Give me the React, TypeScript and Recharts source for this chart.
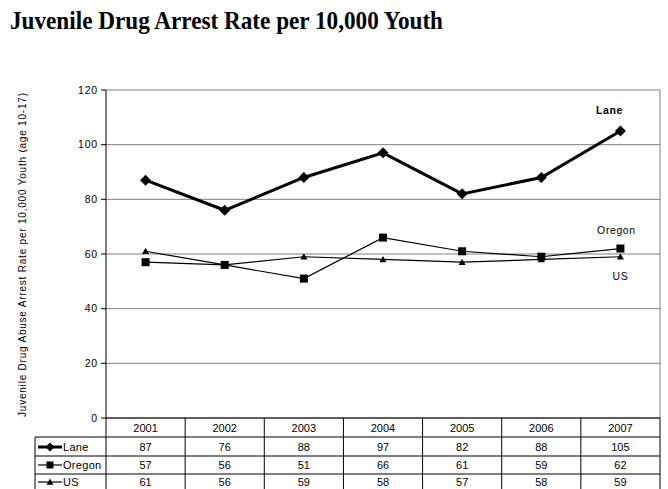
import React from 'react';
import { LineChart, Line, XAxis, YAxis, CartesianGrid, LabelList, Customized } from 'recharts';

const years = ['2001', '2002', '2003', '2004', '2005', '2006', '2007'];
const lane = [87, 76, 88, 97, 82, 88, 105];
const oregon = [57, 56, 51, 66, 61, 59, 62];
const us = [61, 56, 59, 58, 57, 58, 59];
const yTicks = [0, 20, 40, 60, 80, 100, 120];
const seriesNames = ['Lane', 'Oregon', 'US'];

const data = years.map((year, i) => ({ year, lane: lane[i], oregon: oregon[i], us: us[i] }));

const W = 668;
const H = 489;
const PLOT_LEFT = 106;
const PLOT_RIGHT = 660;
const PLOT_TOP = 90;
const PLOT_BOTTOM = 418;
const COL_W = (PLOT_RIGHT - PLOT_LEFT) / years.length;
const HEADER_Y = 427.5;
const ROW_Y = [447, 465, 482];
const ROW_LINES = [437, 456, 474];
const LEGEND_LEFT = 35;
const FONT = '"Liberation Sans", Arial, sans-serif';

const Diamond = ({ cx, cy, r = 5.5 }: any) => (
  <path d={`M${cx},${cy - r}L${cx + r},${cy}L${cx},${cy + r}L${cx - r},${cy}Z`} fill="#000" />
);
const Square = ({ cx, cy, s = 4 }: any) => (
  <rect x={cx - s} y={cy - s} width={2 * s} height={2 * s} fill="#000" />
);
const Triangle = ({ cx, cy, s = 3.5 }: any) => (
  <path d={`M${cx},${cy - s}L${cx + s},${cy + s * 0.8}L${cx - s},${cy + s * 0.8}Z`} fill="#000" />
);

const markers = [Diamond, Square, Triangle];
const lineWidths = [3, 1.2, 1.2];

// year header + the three value rows under each category
const TableTick = (props: any) => {
  const { x, index, payload } = props;
  const rows = [lane, oregon, us];
  const right = x + COL_W / 2;
  return (
    <g>
      <text x={x} y={HEADER_Y} textAnchor="middle" dominantBaseline="central" fontSize={11} fontFamily={FONT} fill="#000">
        {payload.value}
      </text>
      {rows.map((r, k) => (
        <text key={k} x={x} y={ROW_Y[k]} textAnchor="middle" dominantBaseline="central" fontSize={11} fontFamily={FONT} fill="#000">
          {r[index]}
        </text>
      ))}
      <line x1={right} x2={right} y1={PLOT_BOTTOM} y2={H} stroke="#000" strokeWidth={1} />
    </g>
  );
};

const Frame = () => (
  <g>
    <text x={10} y={29} fontFamily='"Liberation Serif", "Times New Roman", serif' fontWeight="bold" fontSize={26} textLength={433} lengthAdjust="spacingAndGlyphs" fill="#000">
      Juvenile Drug Arrest Rate per 10,000 Youth
    </text>
    <text
      x={22}
      y={255}
      transform="rotate(-90 22 255)"
      textAnchor="middle"
      dominantBaseline="central"
      fontFamily={FONT}
      fontSize={10}
      textLength={324}
      lengthAdjust="spacing"
      fill="#000"
    >
      Juvenile Drug Abuse Arrest Rate per 10,000 Youth (age 10-17)
    </text>
    <line x1={PLOT_RIGHT} x2={PLOT_RIGHT} y1={PLOT_TOP} y2={PLOT_BOTTOM} stroke="#808080" />
    <line x1={PLOT_LEFT} x2={PLOT_LEFT} y1={PLOT_BOTTOM} y2={H} stroke="#000" />
    <line x1={LEGEND_LEFT} x2={LEGEND_LEFT} y1={ROW_LINES[0]} y2={H} stroke="#000" />
    {ROW_LINES.map((y, i) => (
      <line key={i} x1={LEGEND_LEFT} x2={PLOT_RIGHT} y1={y} y2={y} stroke="#000" />
    ))}
    {seriesNames.map((name, i) => {
      const M = markers[i];
      const y = ROW_Y[i];
      return (
        <g key={name}>
          <line x1={38} x2={62} y1={y} y2={y} stroke="#000" strokeWidth={lineWidths[i]} />
          <M cx={50} cy={y} r={4.5} s={3.5} />
          <text x={63} y={y} dominantBaseline="central" fontFamily={FONT} fontSize={11} letterSpacing={0.3} fill="#000">
            {name}
          </text>
        </g>
      );
    })}
  </g>
);

const endLabel = (text: string, dx: number, dy: number, bold = false) => (props: any) => {
  const { x, y, index } = props;
  if (index !== years.length - 1) return null;
  return (
    <text x={x + dx} y={y + dy} textAnchor="middle" dominantBaseline="central" fontFamily={FONT} fontSize={10.5} letterSpacing={0.6} fontWeight={bold ? 'bold' : 'normal'} fill="#000">
      {text}
    </text>
  );
};

export default function App() {
  return (
    <div style={{ position: 'absolute', left: 0, top: 0, width: W, height: H, background: '#fff' }}>
      <LineChart width={W} height={H} data={data} margin={{ top: PLOT_TOP, right: W - PLOT_RIGHT, bottom: 0, left: 46 }}>
        <CartesianGrid horizontal vertical={false} stroke="#808080" />
        <XAxis
          dataKey="year"
          height={H - PLOT_BOTTOM}
          padding={{ left: COL_W / 2, right: COL_W / 2 }}
          axisLine={{ stroke: '#000' }}
          tickLine={false}
          tickSize={0}
          tickMargin={0}
          interval={0}
          tick={<TableTick />}
        />
        <YAxis
          width={PLOT_LEFT - 46}
          domain={[0, 120]}
          ticks={yTicks}
          axisLine={{ stroke: '#000' }}
          tickLine={{ stroke: '#000' }}
          tickSize={5}
          tickMargin={3}
          tick={{ fontSize: 10.5, fontFamily: FONT, fill: '#000', letterSpacing: 0.8 }}
        />
        <Line dataKey="lane" stroke="#000" strokeWidth={3} isAnimationActive={false}
          dot={(p: any) => <Diamond key={p.index} cx={p.cx} cy={p.cy} />}>
          <LabelList dataKey="lane" content={endLabel('Lane', -11, -21, true)} />
        </Line>
        <Line dataKey="oregon" stroke="#000" strokeWidth={1.2} isAnimationActive={false}
          dot={(p: any) => <Square key={p.index} cx={p.cx} cy={p.cy} />}>
          <LabelList dataKey="oregon" content={endLabel('Oregon', -4, -19)} />
        </Line>
        <Line dataKey="us" stroke="#000" strokeWidth={1.2} isAnimationActive={false}
          dot={(p: any) => <Triangle key={p.index} cx={p.cx} cy={p.cy} />}>
          <LabelList dataKey="us" content={endLabel('US', 0, 19)} />
        </Line>
        <Customized component={<Frame />} />
      </LineChart>
    </div>
  );
}
